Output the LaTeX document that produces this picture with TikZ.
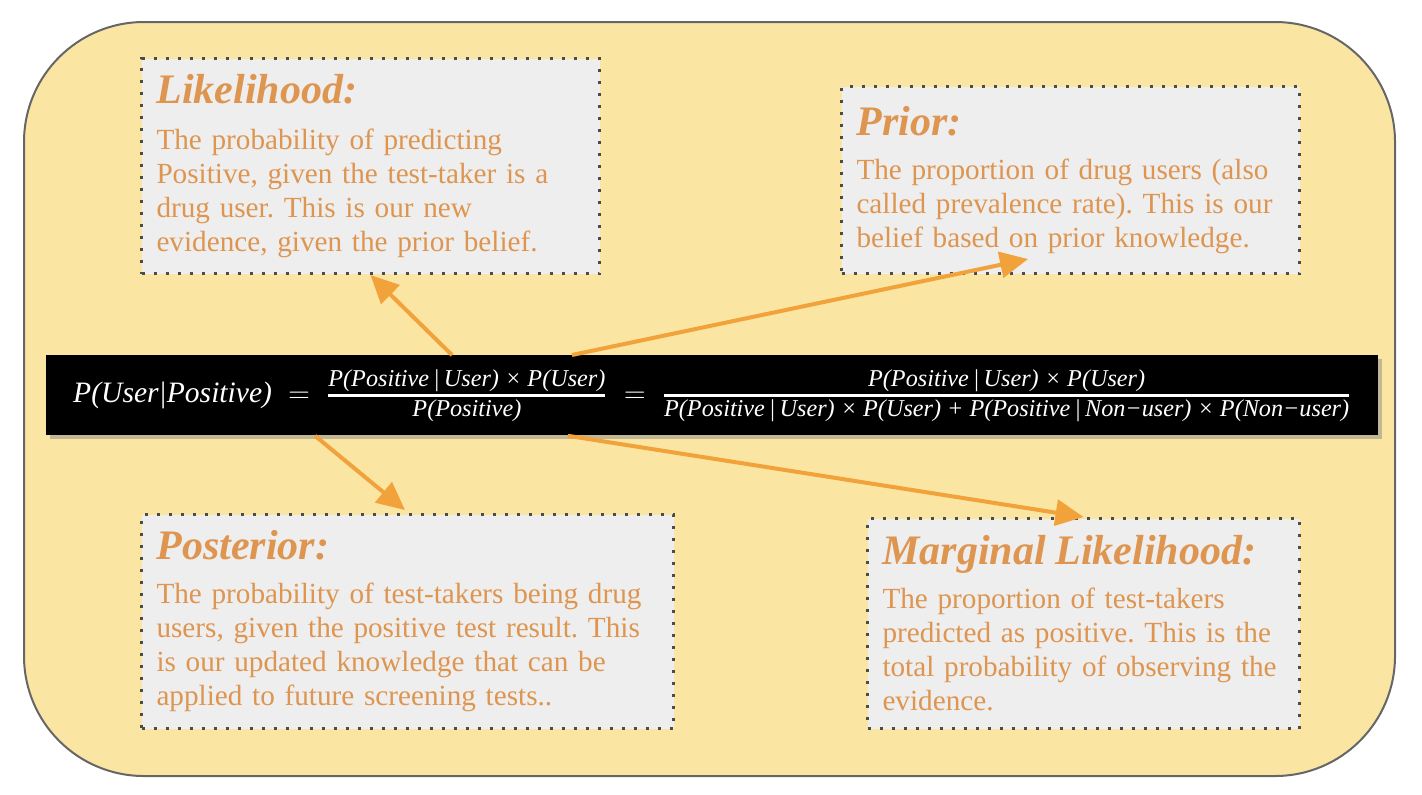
\documentclass[tikz,border=0pt]{standalone}
\usepackage{amsmath}
\usepackage{fontspec}
\setmainfont{Liberation Serif}
\usetikzlibrary{arrows.meta}
\usetikzlibrary{calc}
\usetikzlibrary{shadows}
\definecolor{mypaper}{HTML}{FAE5A3}
\definecolor{mybox}{HTML}{EEEEEE}
\definecolor{myink}{HTML}{DE9550}
\definecolor{myarrow}{HTML}{F2A23B}
\newcommand{\bigpart}[1]{\hbox{\fontsize{14.8}{14.8}\selectfont\itshape #1}}
\newcommand{\smallpart}[1]{\hbox{\fontsize{12.1}{12.1}\selectfont\itshape #1}}
\newcommand{\heading}[1]{{\fontsize{21}{21}\selectfont\bfseries\itshape #1}}
\frenchspacing

\begin{document}
\begin{tikzpicture}[x=0.5pt,y=-0.5pt,
  note/.style={anchor=north west,fill=mybox,draw=black!70,line width=1.5pt,
    dash pattern=on 1.5pt off 4.5pt,inner xsep=7.5pt,align=left,
    text=myink,font=\fontsize{14.6}{17}\selectfont},
  link/.style={-{Triangle[length=14pt,width=13pt]},draw=myarrow,line width=2pt}]

  \useasboundingbox (0,0) rectangle (1422,794);
  \draw[fill=mypaper,draw=black!60,line width=1pt,rounded corners=60pt]
    (24,22) rectangle (1395,776);

  % the four notes
  \node[note,text width=214pt,minimum height=107.5pt] (lik) at (140,57)
    {\heading{Likelihood:}\\[6pt]
     The probability of predicting\\
     Positive, given the test-taker is a\\
     drug user. This is our new\\
     evidence, given the prior belief.};
  \node[note,text width=214pt,minimum height=93.5pt] (prior) at (840,85)
    {\heading{Prior:}\\[5pt]
     The proportion of drug users (also\\
     called prevalence rate). This is our\\
     belief based on prior knowledge.};
  \node[note,text width=251pt,minimum height=107pt] (post) at (140,513)
    {\heading{Posterior:}\\[5pt]
     The probability of test-takers being drug\\
     users, given the positive test result. This\\
     is our updated knowledge that can be\\
     applied to future screening tests..};
  \node[note,text width=201pt,minimum height=105pt] (marg) at (866,517)
    {\heading{Marginal Likelihood:}\\[5pt]
     The proportion of test-takers\\
     predicted as positive. This is the\\
     total probability of observing the\\
     evidence.};

  % Bayes rule
  \node[anchor=north west,fill=black,text=white,minimum width=666pt,minimum height=40pt,
    inner xsep=2pt,font=\fontsize{14}{14}\selectfont,
    drop shadow={shadow xshift=2pt,shadow yshift=-2pt,opacity=0.45}] (bayes) at (46,355)
    {$\bigpart{P(User|Positive)}\;=\;
      \genfrac{}{}{1.3pt}{1}{\smallpart{P(Positive\,|\,User) × P(User)}}{\smallpart{P(Positive)}}
      \;=\;
      \genfrac{}{}{1.3pt}{1}{\smallpart{P(Positive\,|\,User) × P(User)}}
        {\smallpart{P(Positive\,|\,User) × P(User) + P(Positive\,|\,Non−user) × P(Non−user)}}$};

  \draw[link] ($(bayes.north west)+(406,0)$) -- (lik.south);
  \draw[link] ($(bayes.north west)+(526,0)$) -- ($(prior.south west)+(188,-16)$);
  \draw[link] ($(bayes.south west)+(269,0)$) -- ($(post.north west)+(265,-3)$);
  \draw[link] ($(bayes.south west)+(522,0)$) -- (marg.north);
\end{tikzpicture}
\end{document}
